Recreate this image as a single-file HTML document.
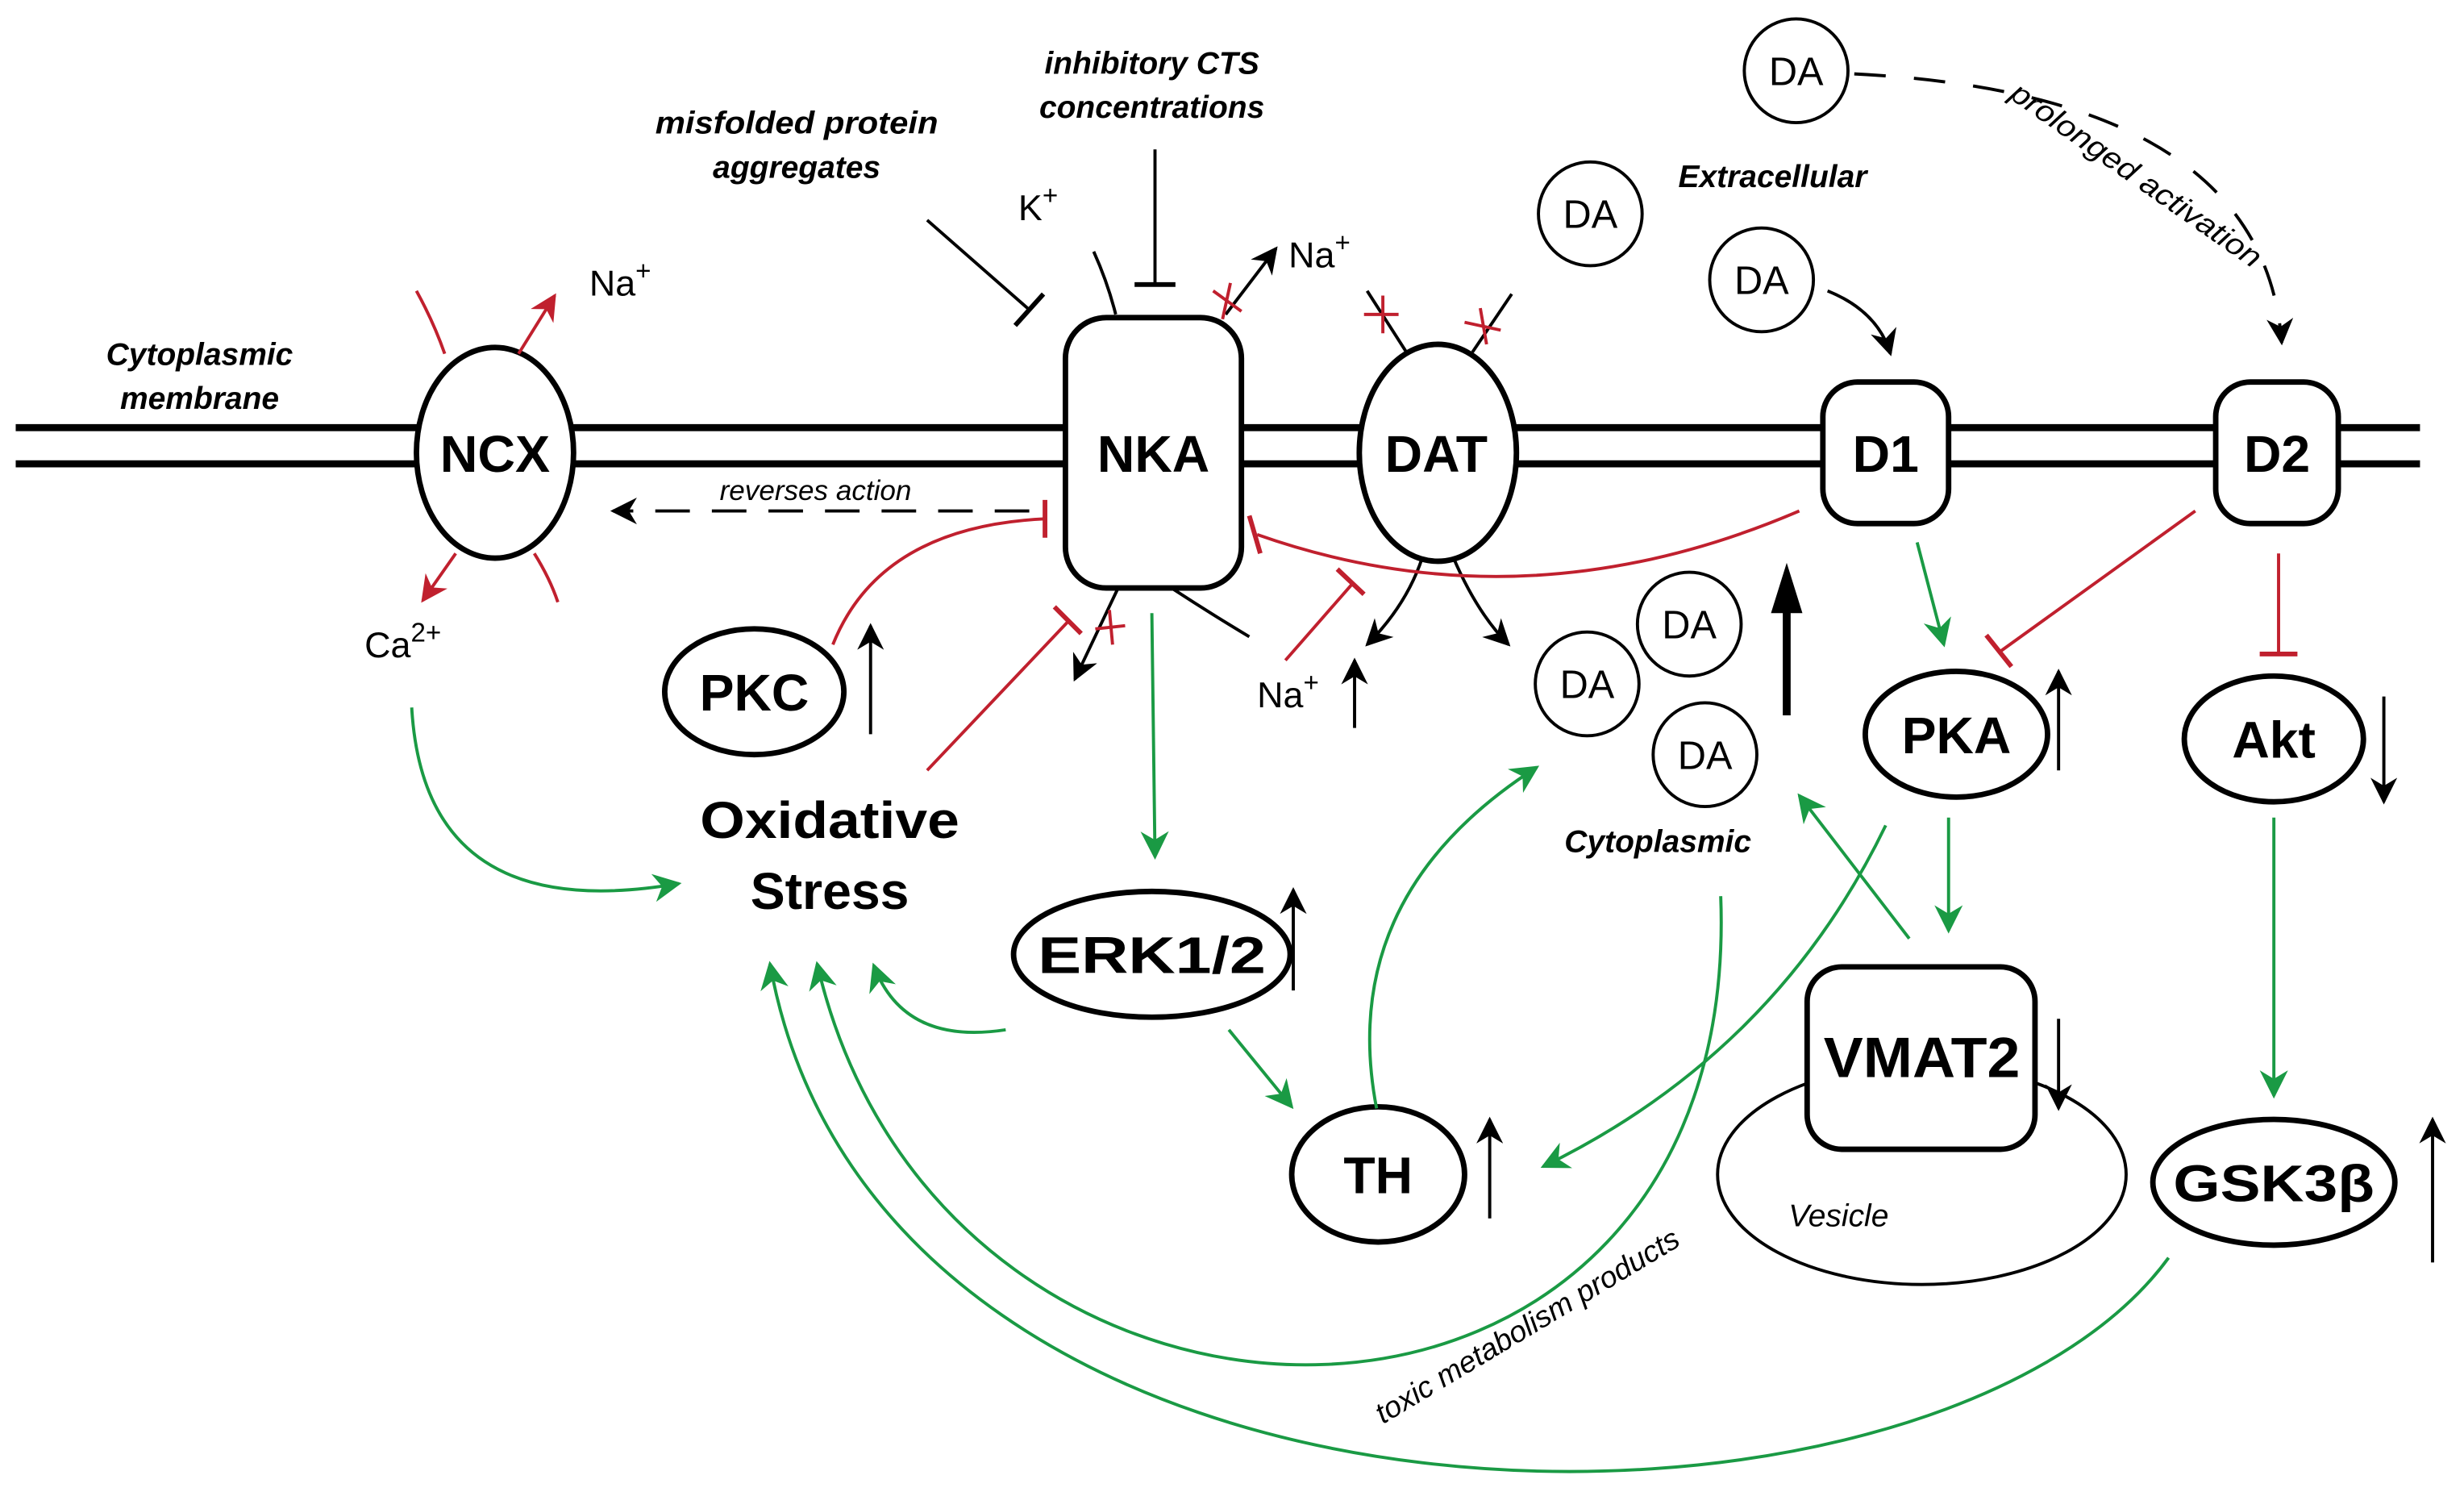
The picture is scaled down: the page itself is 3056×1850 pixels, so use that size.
<!DOCTYPE html>
<html><head><meta charset="utf-8"><style>html,body{margin:0;padding:0;background:#fff}svg{display:block}</style></head>
<body>
<svg width="3056" height="1850" viewBox="0 0 1568 949" preserveAspectRatio="none" xmlns="http://www.w3.org/2000/svg" font-family="Liberation Sans, DejaVu Sans, sans-serif">
<defs>
<marker id="ag" viewBox="0 0 10 10" refX="9" refY="5" markerWidth="18" markerHeight="18" orient="auto" markerUnits="userSpaceOnUse"><path d="M0,0 L10,5 L0,10 L3,5z" fill="#1a9a44"/></marker>
<marker id="ar" viewBox="0 0 10 10" refX="9" refY="5" markerWidth="17" markerHeight="17" orient="auto" markerUnits="userSpaceOnUse"><path d="M0,0 L10,5 L0,10 L3,5z" fill="#c0202e"/></marker>
<marker id="ak2" viewBox="0 0 10 10" refX="9" refY="5" markerWidth="17" markerHeight="17" orient="auto" markerUnits="userSpaceOnUse"><path d="M0,0 L10,5 L0,10 L3,5z" fill="#000"/></marker>
</defs>
<g stroke="#000" stroke-width="4.5"><line x1="10" y1="272" x2="1540" y2="272"/><line x1="10" y1="295" x2="1540" y2="295"/></g>
<g fill="#fff" stroke="#000" stroke-width="3.5">
<ellipse cx="315" cy="288" rx="50" ry="67"/>
<rect x="678" y="202" width="112" height="172" rx="26"/>
<ellipse cx="915" cy="288" rx="50" ry="69"/>
<rect x="1160" y="243" width="80" height="90" rx="22"/>
<rect x="1410" y="243" width="78" height="90" rx="22"/>
<ellipse cx="480" cy="440" rx="57" ry="40"/>
<ellipse cx="733" cy="607" rx="88" ry="40"/>
<ellipse cx="877" cy="747" rx="55" ry="43"/>
<ellipse cx="1245" cy="467" rx="58" ry="40"/>
<ellipse cx="1447" cy="470" rx="57" ry="40"/>
<ellipse cx="1447" cy="752" rx="77" ry="40"/>
</g>
<ellipse cx="1223" cy="747" rx="130" ry="70" fill="#fff" stroke="#000" stroke-width="2"/>
<rect x="1150" y="615" width="145" height="116" rx="22" fill="#fff" stroke="#000" stroke-width="3.5"/>
<g fill="#fff" stroke="#000" stroke-width="2">
<circle cx="1012" cy="136" r="33"/><circle cx="1121" cy="178" r="33"/><circle cx="1143" cy="45" r="33"/>
<circle cx="1075" cy="397" r="33"/><circle cx="1010" cy="435" r="33"/><circle cx="1085" cy="480" r="33"/>
</g>
<g font-size="25" text-anchor="middle">
<text x="1012" y="145">DA</text><text x="1121" y="187">DA</text><text x="1143" y="54">DA</text>
<text x="1075" y="406">DA</text><text x="1010" y="444">DA</text><text x="1085" y="489">DA</text>
</g>
<g font-weight="bold" text-anchor="middle" font-size="33">
<text x="315" y="300" textLength="70" lengthAdjust="spacingAndGlyphs">NCX</text><text x="734" y="300">NKA</text><text x="914" y="300">DAT</text>
<text x="1200" y="300">D1</text><text x="1449" y="300">D2</text>
<text x="480" y="452">PKC</text><text x="733" y="619" textLength="145" lengthAdjust="spacingAndGlyphs">ERK1/2</text><text x="877" y="759">TH</text>
<text x="1245" y="479">PKA</text><text x="1447" y="482">Akt</text><text x="1447" y="764" textLength="128" lengthAdjust="spacingAndGlyphs">GSK3β</text>
<text x="1223" y="685" font-size="36" textLength="125" lengthAdjust="spacingAndGlyphs">VMAT2</text>
<text x="528" y="533" textLength="165" lengthAdjust="spacingAndGlyphs">Oxidative</text><text x="528" y="578">Stress</text>
</g>
<g font-style="italic" font-weight="bold" font-size="20" text-anchor="middle">
<text x="127" y="232">Cytoplasmic</text><text x="127" y="260">membrane</text>
<text x="507" y="85" textLength="180" lengthAdjust="spacingAndGlyphs">misfolded protein</text><text x="507" y="113">aggregates</text>
<text x="733" y="47">inhibitory CTS</text><text x="733" y="75">concentrations</text>
<text x="1128" y="119">Extracellular</text>
<text x="1055" y="542">Cytoplasmic</text>
<text x="1170" y="780" font-weight="normal">Vesicle</text>
</g>
<text x="519" y="318" font-style="italic" font-size="18" text-anchor="middle">reverses action</text>
<text font-style="italic" font-size="19" transform="translate(880,906) rotate(-31)" textLength="222" lengthAdjust="spacingAndGlyphs">toxic metabolism products</text>
<text font-style="italic" font-size="19" transform="translate(1278,62) rotate(35)" textLength="190" lengthAdjust="spacingAndGlyphs">prolonged activation</text>
<g font-size="23">
<text x="375" y="188">Na<tspan dy="-10" font-size="17">+</tspan></text>
<text x="232" y="418">Ca<tspan dy="-10" font-size="17">2+</tspan></text>
<text x="648" y="140">K<tspan dy="-10" font-size="17">+</tspan></text>
<text x="820" y="170">Na<tspan dy="-10" font-size="17">+</tspan></text>
<text x="800" y="450">Na<tspan dy="-10" font-size="17">+</tspan></text>
</g>
<g stroke="#c0202e" stroke-width="2" fill="none">
<path d="M265,185 Q276,205 283,225"/>
<path d="M330,225 L353,188" marker-end="url(#ar)"/>
<path d="M290,352 L269,382" marker-end="url(#ar)"/>
<path d="M340,352 Q350,368 355,383"/>
</g>
<g stroke="#000" stroke-width="2" fill="none">
<line x1="590" y1="140" x2="655" y2="197"/><line x1="646" y1="207" x2="664" y2="187" stroke-width="3"/>
<line x1="735" y1="95" x2="735" y2="180"/><line x1="722" y1="181" x2="748" y2="181" stroke-width="3"/>
<path d="M696,160 Q705,180 710,200"/>
<path d="M780,200 L812,158" marker-end="url(#ak2)"/>
<path d="M870,185 L895,224"/><path d="M962,187 L937,224"/>
<path d="M655,325 L390,325" stroke-dasharray="22,14" marker-end="url(#ak2)"/>
<path d="M1163,185 Q1195,198 1203,225" marker-end="url(#ak2)"/>
<path d="M1180,47 Q1440,60 1452,218" stroke-dasharray="20,18" marker-end="url(#ak2)"/>
<path d="M747,375 Q770,390 795,405"/>
<path d="M712,373 L684,432" marker-end="url(#ak2)"/>
<path d="M905,355 Q895,385 870,410" marker-end="url(#ak2)"/>
<path d="M925,355 Q940,390 960,410" marker-end="url(#ak2)"/>
<line x1="554" y1="467" x2="554" y2="398" marker-end="url(#ak2)"/>
<line x1="862" y1="463" x2="862" y2="420" marker-end="url(#ak2)"/>
<line x1="823" y1="630" x2="823" y2="566" marker-end="url(#ak2)"/>
<line x1="948" y1="775" x2="948" y2="712" marker-end="url(#ak2)"/>
<line x1="1310" y1="490" x2="1310" y2="427" marker-end="url(#ak2)"/>
<line x1="1517" y1="443" x2="1517" y2="510" marker-end="url(#ak2)"/>
<line x1="1548" y1="803" x2="1548" y2="712" marker-end="url(#ak2)"/>
<line x1="1310" y1="648" x2="1310" y2="705" marker-end="url(#ak2)"/>
<line x1="1137" y1="455" x2="1137" y2="386" stroke-width="5"/>
</g>
<path d="M1127,390 L1137,358 L1147,390 Z" fill="#000"/>
<g stroke="#c0202e" stroke-width="2">
<line x1="772" y1="185" x2="790" y2="198"/><line x1="783" y1="180" x2="778" y2="203"/>
<line x1="868" y1="200" x2="890" y2="200"/><line x1="880" y1="188" x2="880" y2="212"/>
<line x1="932" y1="205" x2="955" y2="210"/><line x1="942" y1="196" x2="946" y2="219"/>
<line x1="697" y1="400" x2="716" y2="398"/><line x1="706" y1="388" x2="708" y2="410"/>
</g>
<g stroke="#c0202e" stroke-width="2" fill="none">
<path d="M1145,325 Q970,400 800,340"/><line x1="795" y1="328" x2="802" y2="352" stroke-width="3"/>
<path d="M818,420 L860,372"/><line x1="851" y1="362" x2="868" y2="378" stroke-width="3"/>
<path d="M590,490 L680,395"/><line x1="671" y1="386" x2="688" y2="403" stroke-width="3"/>
<path d="M530,410 Q560,335 665,330"/><line x1="665" y1="318" x2="665" y2="342" stroke-width="3"/>
<path d="M1397,325 L1272,415"/><line x1="1264" y1="404" x2="1280" y2="424" stroke-width="3"/>
<path d="M1450,352 L1450,415"/><line x1="1438" y1="416" x2="1462" y2="416" stroke-width="3"/>
</g>
<g stroke="#1a9a44" stroke-width="2" fill="none">
<path d="M262,450 Q270,590 432,562" marker-end="url(#ag)"/>
<path d="M733,390 L735,545" marker-end="url(#ag)"/>
<path d="M640,655 Q575,665 556,614" marker-end="url(#ag)"/>
<path d="M782,655 L822,704" marker-end="url(#ag)"/>
<path d="M876,705 Q850,570 978,488" marker-end="url(#ag)"/>
<path d="M1220,345 L1237,410" marker-end="url(#ag)"/>
<path d="M1240,520 L1240,592" marker-end="url(#ag)"/>
<path d="M1215,597 L1145,506" marker-end="url(#ag)"/>
<path d="M1200,525 Q1130,670 982,742" marker-end="url(#ag)"/>
<path d="M1447,520 L1447,697" marker-end="url(#ag)"/>
<path d="M1095,570 C1110,960 600,960 520,613" marker-end="url(#ag)"/>
<path d="M1380,800 C1230,1005 560,1005 490,613" marker-end="url(#ag)"/>
</g>
</svg>
</body></html>
